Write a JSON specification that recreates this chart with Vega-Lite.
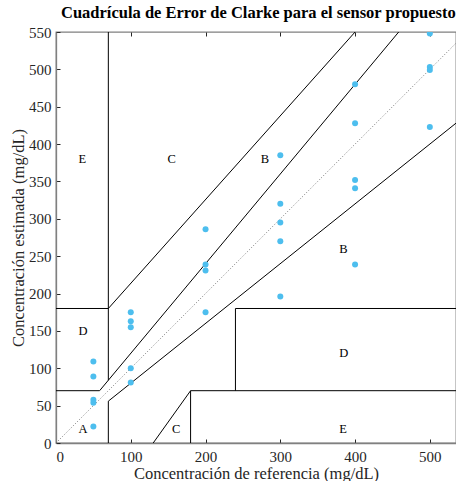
{
  "$schema": "https://vega.github.io/schema/vega-lite/v6.json",
  "autosize": {"type": "none"},
  "padding": {"left": 56, "top": 32, "right": 0, "bottom": 38},
  "width": 400,
  "height": 411,
  "background": "white",
  "config": {
    "font": "Liberation Serif",
    "view": {"stroke": "#808080", "strokeWidth": 1.3},
    "axis": {
      "grid": false,
      "domainColor": "#808080",
      "domainWidth": 1.3,
      "tickColor": "#262626",
      "tickSize": -4,
      "labelFont": "Liberation Serif",
      "labelFontSize": 15,
      "labelColor": "#262626",
      "titleFont": "Liberation Serif",
      "titleFontSize": 16.5,
      "titleFontWeight": "normal",
      "titleColor": "#262626"
    }
  },
  "title": {
    "text": "Cuadrícula de Error de Clarke para el sensor propuesto",
    "font": "Liberation Serif",
    "fontSize": 16.5,
    "fontWeight": "bold",
    "color": "#000000",
    "anchor": "start",
    "frame": "group",
    "dx": 5,
    "offset": 4
  },
  "datasets": {
    "segments": [
      {"x1": 0, "y1": 70, "x2": 58.33, "y2": 70},
      {"x1": 58.33, "y1": 70, "x2": 458.33, "y2": 550},
      {"x1": 70, "y1": 84, "x2": 70, "y2": 550},
      {"x1": 0, "y1": 180, "x2": 70, "y2": 180},
      {"x1": 70, "y1": 180, "x2": 400, "y2": 550},
      {"x1": 70, "y1": 0, "x2": 70, "y2": 56},
      {"x1": 70, "y1": 56, "x2": 550, "y2": 440},
      {"x1": 180, "y1": 0, "x2": 180, "y2": 70},
      {"x1": 180, "y1": 70, "x2": 550, "y2": 70},
      {"x1": 240, "y1": 70, "x2": 240, "y2": 180},
      {"x1": 240, "y1": 180, "x2": 550, "y2": 180},
      {"x1": 130, "y1": 0, "x2": 180, "y2": 70}
    ],
    "diag": [{"x1": 0, "y1": 0, "x2": 550, "y2": 550}],
    "points": [
      {"ref": 50, "est": 109}, {"ref": 50, "est": 89}, {"ref": 50, "est": 58}, {"ref": 50, "est": 54}, {"ref": 50, "est": 22},
      {"ref": 100, "est": 175}, {"ref": 100, "est": 163}, {"ref": 100, "est": 155}, {"ref": 100, "est": 100}, {"ref": 100, "est": 81},
      {"ref": 200, "est": 286}, {"ref": 200, "est": 239}, {"ref": 200, "est": 231}, {"ref": 200, "est": 175},
      {"ref": 300, "est": 385}, {"ref": 300, "est": 320}, {"ref": 300, "est": 295}, {"ref": 300, "est": 270}, {"ref": 300, "est": 196},
      {"ref": 400, "est": 480}, {"ref": 400, "est": 428}, {"ref": 400, "est": 352}, {"ref": 400, "est": 341}, {"ref": 400, "est": 239},
      {"ref": 500, "est": 548}, {"ref": 500, "est": 503}, {"ref": 500, "est": 499}, {"ref": 500, "est": 423}
    ],
    "zones": [
      {"x": 30, "y": 19, "z": "A"},
      {"x": 30, "y": 150, "z": "D"},
      {"x": 30, "y": 380, "z": "E"},
      {"x": 149, "y": 380, "z": "C"},
      {"x": 274, "y": 380, "z": "B"},
      {"x": 379, "y": 260, "z": "B"},
      {"x": 379, "y": 120, "z": "D"},
      {"x": 155, "y": 19, "z": "C"},
      {"x": 379, "y": 19, "z": "E"}
    ]
  },
  "layer": [
    {
      "data": {"name": "diag"},
      "mark": {"type": "rule", "clip": true, "color": "#555555", "strokeWidth": 0.8, "strokeDash": [1, 2]},
      "encoding": {
        "x": {"field": "x1", "type": "quantitative", "scale": {"domain": [0, 535], "nice": false, "zero": false},
              "axis": {"orient": "bottom", "title": "Concentración de referencia (mg/dL)", "values": [0, 100, 200, 300, 400, 500], "titleBaseline": "alphabetic", "titleY": 35, "labelPadding": 10}},
        "y": {"field": "y1", "type": "quantitative", "scale": {"domain": [0, 550], "nice": false, "zero": false},
              "axis": {"orient": "left", "title": "Concentración estimada (mg/dL)", "values": [0, 50, 100, 150, 200, 250, 300, 350, 400, 450, 500, 550], "labelPadding": 9, "titleBaseline": "alphabetic", "titleX": -33}},
        "x2": {"field": "x2"},
        "y2": {"field": "y2"}
      }
    },
    {
      "data": {"name": "segments"},
      "mark": {"type": "rule", "clip": true, "color": "#000000", "strokeWidth": 1},
      "encoding": {
        "x": {"field": "x1", "type": "quantitative", "axis": {"orient": "top", "title": null, "labels": false, "domain": false, "values": [0, 100, 200, 300, 400, 500]}},
        "y": {"field": "y1", "type": "quantitative", "axis": null},
        "x2": {"field": "x2"},
        "y2": {"field": "y2"}
      }
    },
    {
      "data": {"name": "points"},
      "mark": {"type": "circle", "size": 36, "color": "#4DBEEE", "opacity": 1, "clip": true},
      "encoding": {
        "x": {"field": "ref", "type": "quantitative", "axis": null},
        "y": {"field": "est", "type": "quantitative", "axis": null}
      }
    },
    {
      "data": {"name": "zones"},
      "mark": {"type": "text", "align": "left", "baseline": "middle", "fontSize": 12.5, "font": "Liberation Serif", "color": "#000000"},
      "encoding": {
        "x": {"field": "x", "type": "quantitative", "axis": null},
        "y": {"field": "y", "type": "quantitative", "axis": null},
        "text": {"field": "z"}
      }
    }
  ],
  "resolve": {"axis": {"x": "independent", "y": "independent"}}
}
